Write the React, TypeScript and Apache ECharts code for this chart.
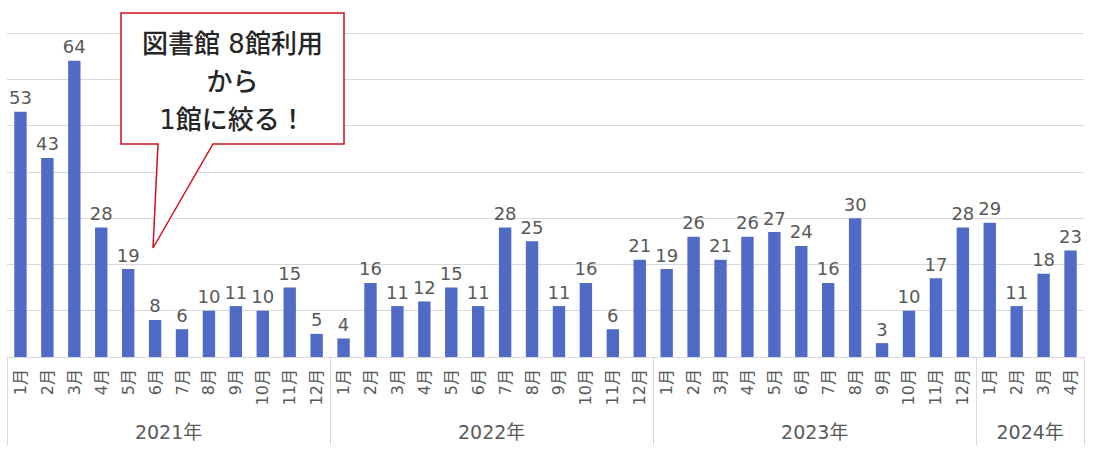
import React, { useEffect, useRef } from "react";
import * as echarts from "echarts";

const years = ["2021年", "2022年", "2023年", "2024年"];
const values2021 = [53, 43, 64, 28, 19, 8, 6, 10, 11, 10, 15, 5];
const values2022 = [4, 16, 11, 12, 15, 11, 28, 25, 11, 16, 6, 21];
const values2023 = [19, 26, 21, 26, 27, 24, 16, 30, 3, 10, 17, 28];
const values2024 = [29, 11, 18, 23];
const yearValues = [values2021, values2022, values2023, values2024];
const calloutLines = ["図書館 8館利用", "から", "1館に絞る！"];

const FONT = "'DejaVu Sans', 'Noto Sans CJK JP', sans-serif";
const GRAY = "#595959";

export default function App() {
  const ref = useRef<HTMLDivElement>(null);

  useEffect(() => {
    document.body.style.margin = "0";
    if (!ref.current) return;
    const chart = echarts.init(ref.current, null, { renderer: "svg" });

    const monthCats: string[] = [];
    const data: number[] = [];
    yearValues.forEach((arr) => {
      arr.forEach((v, i) => {
        monthCats.push(`${i + 1}月`);
        data.push(v);
      });
    });

    // half-month positions: 0..2N, boundaries and year centers
    const N = data.length;
    const halfCats: string[] = [];
    for (let i = 0; i <= 2 * N; i++) halfCats.push("");
    const boundaries: number[] = [0];
    const centers: number[] = [];
    let acc = 0;
    yearValues.forEach((arr, yi) => {
      centers.push(acc * 2 + arr.length);
      halfCats[acc * 2 + arr.length] = years[yi];
      acc += arr.length;
      boundaries.push(acc * 2);
    });

    const L = 121, T = 13, R = 344, B = 144;
    const polygon = [
      [L, T], [R, T], [R, B], [213, B], [153, 248], [158, B], [L, B],
    ];

    chart.setOption({
      animation: false,
      grid: { left: 7, right: 10, top: 33, bottom: 96, containLabel: false },
      xAxis: [
        {
          type: "category",
          data: monthCats,
          axisLine: { show: true, lineStyle: { color: "#d9d9d9", width: 1 } },
          axisTick: { show: false },
          axisLabel: {
            rotate: 90,
            interval: 0,
            margin: 12,
            color: GRAY,
            fontSize: 16,
            fontFamily: FONT,
          },
        },
        {
          type: "category",
          position: "bottom",
          data: halfCats,
          boundaryGap: false,
          axisLine: { show: false },
          axisTick: {
            show: true,
            length: 88,
            interval: (index: number) => boundaries.includes(index),
            lineStyle: { color: "#d9d9d9", width: 1 },
          },
          axisLabel: {
            interval: (index: number) => centers.includes(index),
            margin: 65,
            color: GRAY,
            fontSize: 19,
            fontFamily: FONT,
          },
        },
      ],
      yAxis: {
        type: "value",
        min: 0,
        max: 70,
        interval: 10,
        axisLabel: { show: false },
        axisLine: { show: false },
        axisTick: { show: false },
        splitLine: { lineStyle: { color: "#d9d9d9", width: 1 } },
      },
      series: [
        {
          type: "bar",
          xAxisIndex: 0,
          data,
          barWidth: "46%",
          itemStyle: { color: "#4f6bc5" },
          label: {
            show: true,
            position: "top",
            distance: 5,
            color: GRAY,
            fontSize: 18,
            fontFamily: FONT,
          },
        },
      ],
      graphic: [
        {
          type: "polygon",
          z: 100,
          shape: { points: polygon },
          style: { fill: "#ffffff", stroke: "#d0101c", lineWidth: 1.5 },
        },
        ...calloutLines.map((t, i) => ({
          type: "text",
          z: 101,
          x: (L + R) / 2,
          y: 44 + i * 38,
          style: {
            text: t,
            fill: "#262626",
            font: `500 26px ${FONT}`,
            textAlign: "center",
            textVerticalAlign: "middle",
          },
        })),
      ],
    });

    return () => chart.dispose();
  }, []);

  return <div ref={ref} style={{ width: 1094, height: 453 }} />;
}
